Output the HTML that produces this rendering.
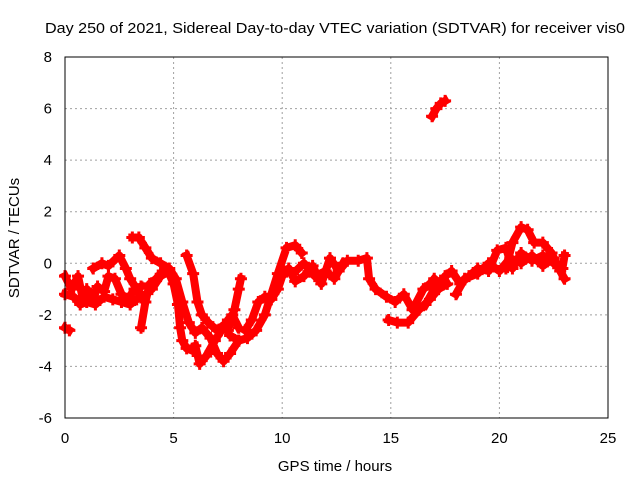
<!DOCTYPE html>
<html><head><meta charset="utf-8"><style>
body{margin:0;background:#fff}
svg{display:block;font-family:"Liberation Sans",Arial,sans-serif}
</style></head><body>
<svg id="chart" width="640" height="480" viewBox="0 0 640 480">
<rect width="640" height="480" fill="#fff"/>
<text x="45" y="33" font-size="15" textLength="580" lengthAdjust="spacingAndGlyphs" fill="#000">Day 250 of 2021, Sidereal Day-to-day VTEC variation (SDTVAR) for receiver vis0</text>
<g id="grid"></g>
<g id="ticks"></g>
<g id="series"></g>
<rect x="65" y="57" width="543" height="361" fill="none" stroke="#000" stroke-width="1"/>
<text x="335" y="471" font-size="15" text-anchor="middle">GPS time / hours</text>
<text transform="translate(19,238) rotate(-90)" font-size="15" text-anchor="middle">SDTVAR / TECUs</text>
</svg>
<script>
const xTicks=[0,5,10,15,20,25];
const yTicks=[-6,-4,-2,0,2,4,6,8];
const trackA=[[0,-0.5],[0.3,-1.0],[0.6,-0.5],[0.8,-1.3],[1.0,-1.0],[1.3,-1.4],[1.5,-0.9],[1.8,-1.1],[2.0,-0.5],[2.3,-0.6],[2.6,-1.2],[2.9,-1.4],[3.2,-1.0],[3.5,-0.9]];
const trackA2=[[0,-1.2],[0.4,-1.3],[0.7,-1.6],[1.0,-1.5],[1.4,-1.6],[1.8,-1.3],[2.2,-1.4],[2.6,-1.5],[3.0,-1.6],[3.3,-1.4]];
const trackB=[[1.3,-0.2],[1.7,0.0],[2.0,-0.1],[2.5,0.3],[2.8,-0.2],[3.0,-0.6],[3.3,-1.0],[3.6,-1.3],[4.0,-1.0],[4.4,-0.5],[4.8,-0.3],[5.0,-0.6]];
const trackC=[[3.1,1.0],[3.4,1.0],[3.7,0.6],[4.0,0.2],[4.4,0.0],[4.8,-0.2],[5.1,-0.6],[5.4,-1.5],[5.7,-2.3],[6.0,-2.7],[6.3,-2.5],[6.7,-2.9],[7.0,-3.5],[7.3,-3.8],[7.6,-3.5],[8.0,-3.0]];
const trackD=[[3.5,-2.5],[3.7,-1.5],[3.9,-0.8],[4.2,-0.6],[4.5,-0.3],[4.8,-0.4],[5.0,-0.8],[5.2,-1.6],[5.3,-2.5],[5.4,-3.0],[5.6,-3.3],[5.9,-3.4]];
const trackE=[[5.6,0.3],[5.9,-0.4],[6.1,-1.5],[6.3,-2.0],[6.6,-2.3],[7.0,-2.6],[7.3,-2.4],[7.6,-2.8],[8.0,-3.0],[8.4,-2.9],[8.8,-2.6],[9.2,-2.0],[9.5,-1.2],[9.8,-0.4],[10.2,0.6],[10.6,0.7],[10.9,0.4]];
const trackF=[[6.0,-3.2],[6.2,-3.9],[6.5,-3.6],[6.9,-3.0],[7.2,-2.6],[7.5,-2.2],[7.7,-2.0],[8.0,-2.5]];
const trackG=[[7.5,-2.6],[7.8,-1.8],[8.0,-1.0],[8.1,-0.6]];
const trackH=[[8.3,-2.6],[8.6,-2.2],[8.9,-1.5],[9.2,-1.3],[9.5,-1.4],[9.8,-1.0],[10.0,-0.5],[10.3,-0.2],[10.6,-0.7],[11.0,-0.5],[11.4,-0.1],[11.8,-0.8],[12.2,0.2],[12.6,-0.3],[13.0,0.1],[13.5,0.1],[13.9,0.2],[14.0,-0.6],[14.3,-1.0],[14.8,-1.3],[15.2,-1.5],[15.6,-1.2],[16.0,-1.8],[16.5,-1.0],[16.8,-0.8],[17.0,-0.6]];
const trackH2=[[10.0,-0.2],[10.5,-0.4],[11.0,0.0],[11.5,-0.5],[12.0,-0.3],[12.4,-0.6],[12.8,0.0]];
const trackI=[[14.9,-2.2],[15.3,-2.3],[15.8,-2.3],[16.3,-1.8],[16.8,-1.4],[17.2,-1.0],[17.6,-0.8]];
const trackJ=[[16.6,-1.6],[17.0,-1.0],[17.5,-0.5],[17.8,-0.3],[18.2,-0.8],[18.6,-0.5],[19.0,-0.2],[19.5,-0.3],[19.9,0.5],[20.3,0.6],[20.6,-0.2],[21.0,0.4],[21.5,0.1],[22.0,0.3],[22.5,0.0],[22.9,-0.2],[23.0,0.3]];
const trackJ2=[[18.0,-1.2],[18.4,-0.6],[19.0,-0.4],[19.5,0.0],[20.0,-0.3],[20.5,0.2],[21.0,0.0],[21.5,0.3],[22.0,-0.1],[22.5,0.2]];
const trackK=[[20.3,-0.2],[20.6,0.8],[21.0,1.4],[21.3,1.3],[21.6,0.8],[22.0,0.8],[22.4,0.4],[22.8,-0.3],[23.0,-0.6]];
const trackM=[[16.9,5.7],[17.1,6.0],[17.3,6.2],[17.5,6.3]];
const trackN=[[0,-2.5],[0.2,-2.6]];
const tracks=[trackA,trackA2,trackB,trackC,trackD,trackE,trackF,trackG,trackH,trackH2,trackI,trackJ,trackJ2,trackK,trackM,trackN];

const X0=65,X1=608,Y0=418,Y1=57;
const xs=v=>X0+(v-0)/(25-0)*(X1-X0);
const ys=v=>Y0-(v-(-6))/(8-(-6))*(Y0-Y1);
const NS='http://www.w3.org/2000/svg';
const grid=document.getElementById('grid'),ticks=document.getElementById('ticks'),ser=document.getElementById('series');
function mk(tag,attrs,parent){const e=document.createElementNS(NS,tag);for(const k in attrs)e.setAttribute(k,attrs[k]);parent.appendChild(e);return e;}
xTicks.forEach(t=>{
  const x=xs(t);
  if(t>0&&t<25){const g=mk('line',{x1:x,x2:x,y1:Y1,y2:Y0,stroke:'#a0a0a0','stroke-dasharray':'2,3'},grid);
  
  }
  const l=mk('text',{x:x,y:443,'font-size':15,'text-anchor':'middle'},ticks);l.textContent=t;
  
  
});
yTicks.forEach(t=>{
  const y=ys(t);
  if(t>-6&&t<8){const g=mk('line',{x1:X0,x2:X1,y1:y,y2:y,stroke:'#a0a0a0','stroke-dasharray':'2,3'},grid);
  
  }
  const l=mk('text',{x:52,y:y+5,'font-size':15,'text-anchor':'end'},ticks);l.textContent=t;
  
  
});
tracks.forEach(tr=>{
  const pts=tr.map(p=>xs(p[0])+','+ys(p[1])).join(' ');
  const pl=mk('polyline',{points:pts,fill:'none',stroke:'#ff0000','stroke-width':8,'stroke-linejoin':'round','stroke-linecap':'square'},ser);
  
  
  tr.forEach(p=>{
    const x=xs(p[0]),y=ys(p[1]);
    const m=mk('path',{d:`M${x-6},${y}H${x+6}M${x},${y-6}V${y+6}`,stroke:'#ff0000','stroke-width':3},ser);
    
    
  });
});
</script>
</body></html>
